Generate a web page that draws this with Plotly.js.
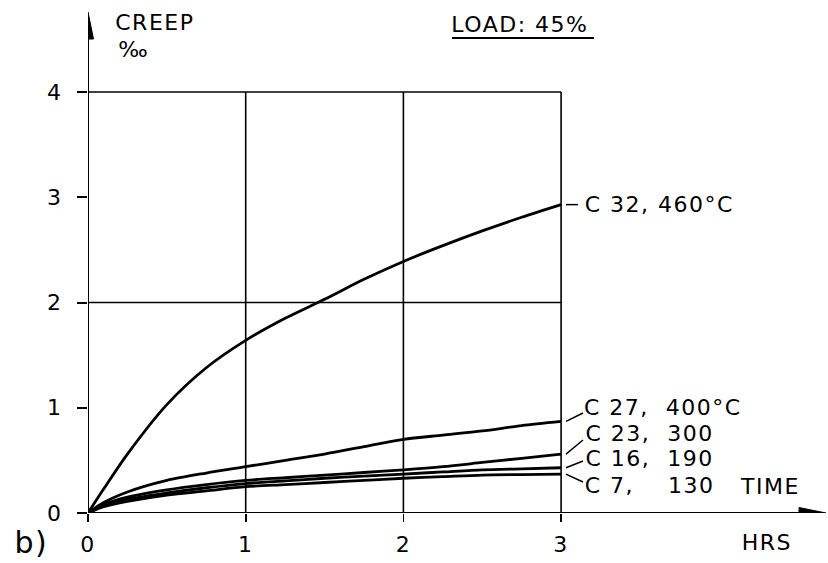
<!DOCTYPE html>
<html>
<head>
<meta charset="utf-8">
<script src="https://cdn.plot.ly/plotly-3.0.1.min.js"></script>
<style>
html,body{margin:0;padding:0;background:#fff}
#chart{width:828px;height:563px}
#chart svg text{letter-spacing:1.5px}
</style>
</head>
<body>
<div id="chart"></div>
<script>
// ---- data ----
var hours = [0, 0.1, 0.25, 0.5, 0.75, 1, 1.25, 1.5, 1.75, 2, 2.25, 2.5, 2.75, 3];
var c32 = [0, 0.23, 0.56, 1.03, 1.38, 1.64, 1.85, 2.03, 2.22, 2.39, 2.54, 2.68, 2.81, 2.93];
var c27 = [0, 0.10, 0.20, 0.31, 0.38, 0.44, 0.50, 0.56, 0.63, 0.70, 0.74, 0.78, 0.83, 0.87];
var c23 = [0, 0.08, 0.15, 0.22, 0.27, 0.31, 0.335, 0.36, 0.385, 0.41, 0.44, 0.48, 0.52, 0.56];
var c16 = [0, 0.07, 0.13, 0.19, 0.24, 0.28, 0.305, 0.33, 0.35, 0.37, 0.39, 0.41, 0.42, 0.43];
var c7  = [0, 0.06, 0.11, 0.17, 0.21, 0.25, 0.27, 0.29, 0.31, 0.33, 0.345, 0.36, 0.365, 0.37];
var seriesNames = ["C 32,\u00A0460\u00B0C", "C 27,\u00A0\u00A0400\u00B0C", "C 23,\u00A0\u00A0300", "C 16,\u00A0\u00A0190", "C 7,\u00A0\u00A0\u00A0\u00A0130"];
var xTicks = [0, 1, 2, 3];
var yTicks = [0, 1, 2, 3, 4];
var gridX = [1, 2, 3];
var gridY = [2, 4];

// ---- layout geometry (pixels) ----
var W = 828, H = 563;
var L = 88, B = 50;             // plot origin at (88, 513)
var pxPerX = 157.7, pxPerY = 105.25;
var xMax = (W - L) / pxPerX;
var yMax = (H - B) / pxPerY;
function dx(px) { return (px - L) / pxPerX; }
function dy(py) { return (H - B - py) / pxPerY; }
function ppx(px) { return (px - L) / (W - L); }
function ppy(py) { return (H - B - py) / (H - B); }

var FONT = "DejaVu Sans, sans-serif";
var FS = 22;
var SHIFT = 7;   // compensation for letter-spacing on left-anchored text
var allSeries = [c32, c27, c23, c16, c7];

var traces = allSeries.map(function (s, i) {
  return {
    x: hours, y: s, type: "scatter", mode: "lines",
    name: seriesNames[i],
    line: {color: "#000", width: 2.8, shape: "spline", smoothing: 0.8},
    hoverinfo: "skip", showlegend: false
  };
});

var shapes = [];
// grid
gridX.forEach(function (g) {
  shapes.push({type: "line", xref: "x", yref: "y", x0: g, x1: g, y0: 0, y1: 4, line: {color: "#000", width: 1.6}, layer: "below"});
});
gridY.forEach(function (g) {
  shapes.push({type: "line", xref: "x", yref: "y", x0: 0, x1: 3, y0: g, y1: g, line: {color: "#000", width: 1.6}, layer: "below"});
});
// axes with arrows
var xTip = dx(826), yTip = dy(12);
shapes.push({type: "line", xref: "x", yref: "y", x0: 0, x1: xTip - 0.1, y0: 0, y1: 0, line: {color: "#000", width: 2}});
shapes.push({type: "line", xref: "x", yref: "y", x0: 0, x1: 0, y0: 0, y1: yTip - 0.1, line: {color: "#000", width: 2}});
var ahx = 27 / pxPerX, ahy = 5.5 / pxPerY;
shapes.push({type: "path", xref: "x", yref: "y", path: "M" + xTip + ",0 L" + (xTip - ahx) + "," + ahy + " L" + (xTip - ahx) + "," + (-ahy) + " Z", fillcolor: "#000", line: {color: "#000", width: 1}});
var avy = 27 / pxPerY, avx = 5.5 / pxPerX;
shapes.push({type: "path", xref: "x", yref: "y", path: "M0," + yTip + " L" + avx + "," + (yTip - avy) + " L" + (-avx) + "," + (yTip - avy) + " Z", fillcolor: "#000", line: {color: "#000", width: 1}});
// LOAD underline
shapes.push({type: "line", xref: "x", yref: "y", x0: dx(452), x1: dx(594), y0: dy(38), y1: dy(38), line: {color: "#000", width: 2}});

// series label leaders: end px x, end px y, text center px y
var labelPos = [
  {lx: 578, ly: 204, ty: 204},
  {lx: 583, ly: 413, ty: 407},
  {lx: 583, ly: 440, ty: 433},
  {lx: 583, ly: 461, ty: 458},
  {lx: 583, ly: 482, ty: 485}
];
var annotations = [];
allSeries.forEach(function (s, i) {
  var p = labelPos[i];
  var last = s[s.length - 1];
  shapes.push({type: "line", xref: "x", yref: "y", x0: dx(566), y0: last, x1: dx(p.lx), y1: (i === 0 ? last : dy(p.ly)), line: {color: "#000", width: 1.5}});
  annotations.push({xref: "x", yref: "y", x: dx(584), y: (i === 0 ? last : dy(p.ty)), xanchor: "left", yanchor: "middle", xshift: SHIFT,
    text: seriesNames[i], showarrow: false, font: {family: FONT, size: FS, color: "#000"}});
});

function txt(t, px, py, size) {
  annotations.push({xref: "paper", yref: "paper", x: ppx(px), y: ppy(py), xanchor: "left", yanchor: "middle", xshift: SHIFT - 2,
    text: t, showarrow: false, font: {family: FONT, size: size || FS, color: "#000"}});
}
txt("CREEP", 112, 22);
txt("\u2030", 112, 49);
txt("LOAD:\u00A045%", 451, 24);
txt("TIME", 736, 486);
txt("HRS", 737, 543);
txt("b)", 9, 542, 30);

var layout = {
  width: W, height: H,
  margin: {l: L, r: 0, t: 0, b: B, pad: 0},
  paper_bgcolor: "#fff", plot_bgcolor: "#fff",
  font: {family: FONT, size: FS, color: "#000"},
  xaxis: {range: [0, xMax], showgrid: false, zeroline: false, showline: false,
    tickvals: xTicks, ticktext: xTicks.map(String), ticks: "outside", ticklen: 8, tickwidth: 1.6, tickcolor: "#000",
    ticklabelstandoff: 4, tickfont: {family: FONT, size: FS, color: "#000"}, fixedrange: true},
  yaxis: {range: [0, yMax], showgrid: false, zeroline: false, showline: false,
    tickvals: yTicks, ticktext: yTicks.map(String), ticks: "outside", ticklen: 10, tickwidth: 2, tickcolor: "#000",
    ticklabelstandoff: 10, tickfont: {family: FONT, size: FS, color: "#000"}, fixedrange: true},
  shapes: shapes,
  annotations: annotations,
  showlegend: false
};

Plotly.newPlot("chart", traces, layout, {staticPlot: true, displayModeBar: false});
</script>
</body>
</html>
